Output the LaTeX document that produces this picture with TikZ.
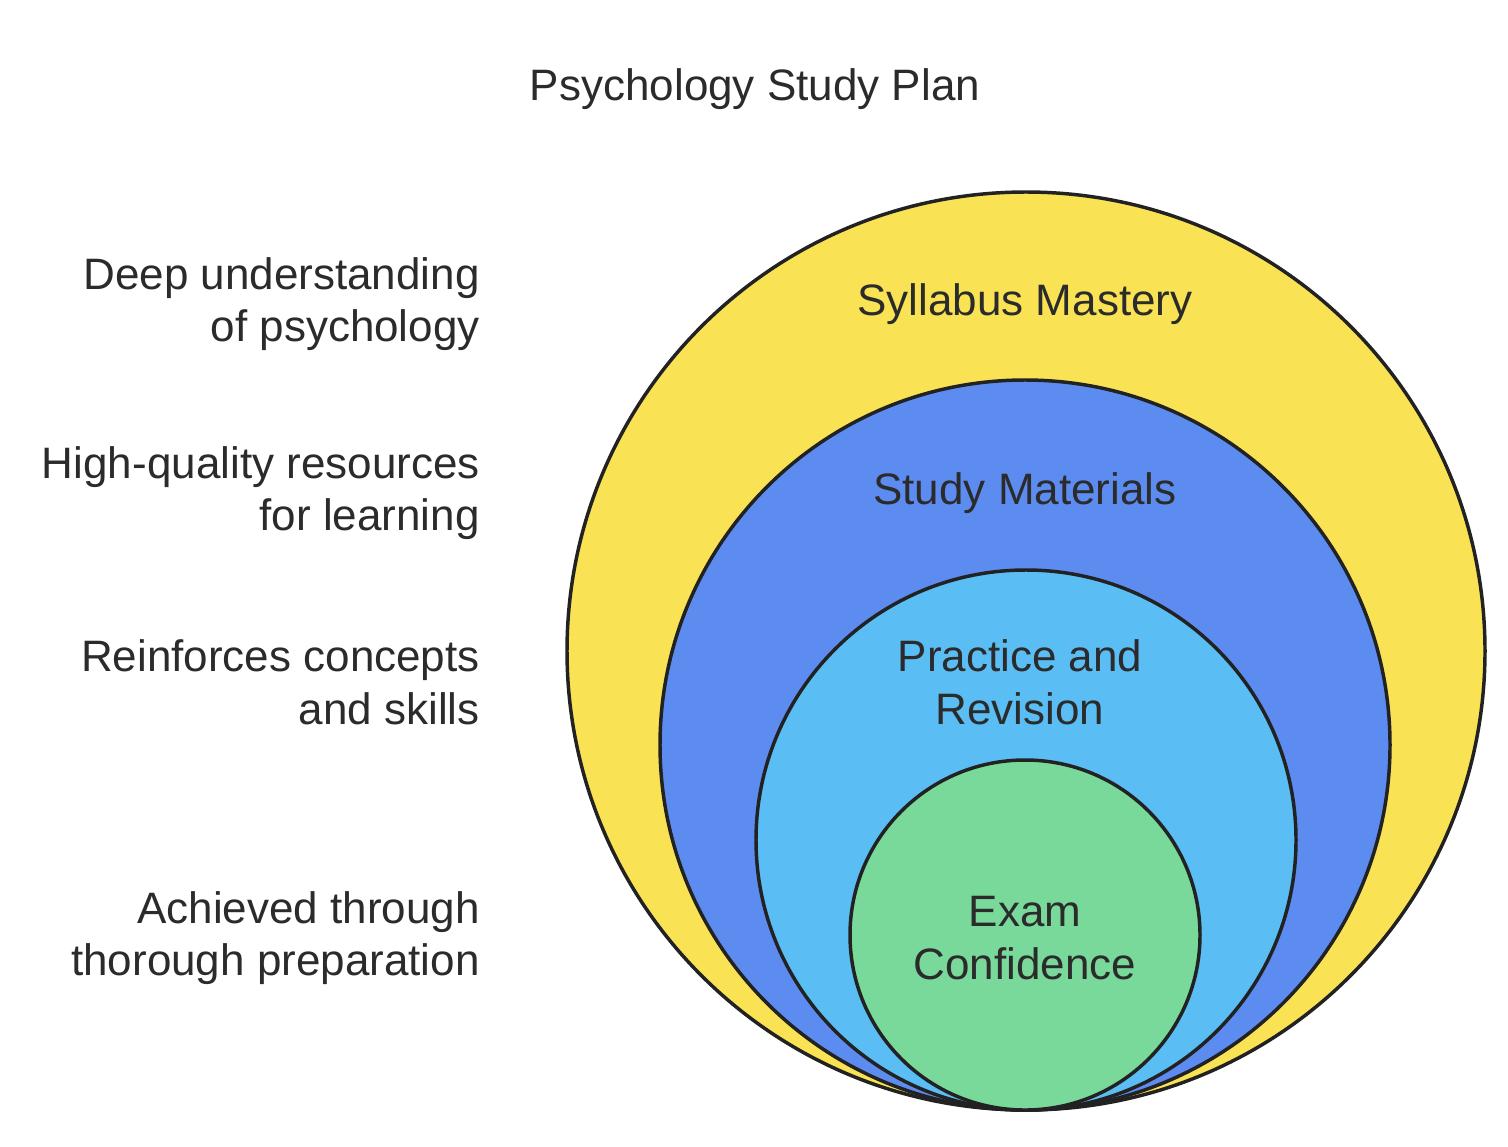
\documentclass[tikz,border=0pt]{standalone}
\usepackage{fontspec}
\setmainfont{Liberation Sans}
\definecolor{cyel}{HTML}{F9E355}
\definecolor{cblue}{HTML}{5D8CF0}
\definecolor{clblue}{HTML}{5ABEF5}
\definecolor{cgreen}{HTML}{78D99A}
\definecolor{ctext}{HTML}{2B2B2B}
\definecolor{cline}{HTML}{222222}
\begin{document}
\begin{tikzpicture}[x=0.75pt,y=-0.75pt,
  ring/.style={draw=cline,line width=2.6pt},
  lbl/.style={text=ctext,font=\fontsize{33pt}{39.5pt}\selectfont,align=center},
  side/.style={text=ctext,font=\fontsize{33pt}{39.5pt}\selectfont,align=right,anchor=east,inner sep=0pt}]
\useasboundingbox[fill=white] (0,0) rectangle (1508,1146);
\node[lbl] (title) at (755,89) {Psychology Study Plan};
\filldraw[ring,fill=cyel] (1026,651) circle [radius=459];
\filldraw[ring,fill=cblue] (1025,745) circle [radius=365];
\filldraw[ring,fill=clblue] (1026,840) circle [radius=270];
\filldraw[ring,fill=cgreen] (1025,935) circle [radius=175];
\node[lbl] (c1) at (1025,304) {Syllabus Mastery};
\node[lbl] (c2) at (1025,493) {Study Materials};
\node[lbl] (c3) at (1020,682) {Practice and\\Revision};
\node[lbl] (c4) at (1025,938) {Exam\\Confidence};
\node[side] (s1) at (480,304) {Deep understanding\\of psychology};
\node[side] (s2) at (480,493) {High-quality resources\\for learning};
\node[side] (s3) at (480,682) {Reinforces concepts\\and skills};
\node[side] (s4) at (480,938) {Achieved through\\thorough preparation};
\end{tikzpicture}
\end{document}
